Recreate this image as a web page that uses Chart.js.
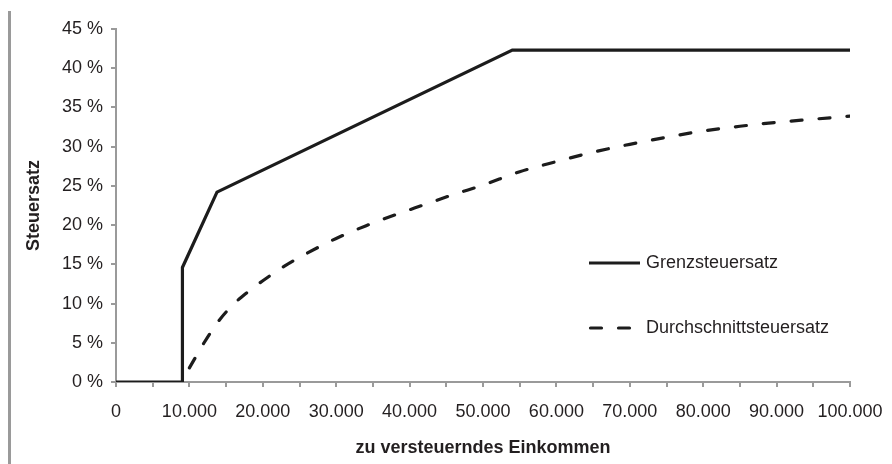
<!DOCTYPE html>
<html>
<head>
<meta charset="utf-8">
<script src="https://cdn.jsdelivr.net/npm/chart.js@4.4.1/dist/chart.umd.min.js"></script>
<style>
  html, body { margin: 0; padding: 0; background: #fff; }
  #wrap { width: 892px; height: 464px; position: relative; }
</style>
</head>
<body>
<div id="wrap"><canvas id="c" width="892" height="464"></canvas></div>
<script>
// ---- data ----
const seriesNames = ['Grenzsteuersatz', 'Durchschnittsteuersatz'];

const incomeMarginal = [0, 9000, 9000, 9100, 13760, 54000, 100000];
const rateMarginal   = [0, 0, 13.0, 14.6, 24.2, 42.3, 42.3];

const incomeAverage = [10000, 12000, 14000, 16000, 18000, 20000, 23000, 26000, 30000, 34000,
                       38000, 42000, 46000, 50000, 55000, 60000, 65000, 70000, 75000, 80000,
                       85000, 90000, 95000, 100000];
const rateAverage   = [1.8, 5.0, 7.8, 9.9, 11.5, 12.9, 14.8, 16.4, 18.3, 19.9,
                       21.3, 22.6, 23.9, 25.1, 26.8, 28.1, 29.3, 30.3, 31.2, 32.0,
                       32.6, 33.1, 33.5, 33.9];

const xAxisTitle = 'zu versteuerndes Einkommen';
const yAxisTitle = 'Steuersatz';
const xMax = 100000, xStep = 5000, xLabelStep = 10000;
const yMax = 45, yStep = 5;

// ---- helpers ----
const toPoints = (xs, ys) => xs.map((x, i) => ({ x: x, y: ys[i] }));
const fmtThousands = v => String(v).replace(/\B(?=(\d{3})+(?!\d))/g, '.');

const INK = '#1c1c1c';
const AXIS = '#9a9a9a';
const TEXT = '#231f20';
const FONT = "'Liberation Sans', Arial, Helvetica, sans-serif";

const decor = {
  id: 'decor',
  beforeDraw(chart) {
    const ctx = chart.ctx;
    ctx.save();
    ctx.fillStyle = AXIS;
    ctx.fillRect(8, 11, 3, 453);
    ctx.restore();
  },
  afterDraw(chart) {
    const ctx = chart.ctx;
    const items = chart.data.datasets;
    const x0 = 589, x1Solid = 640, x1Dash = 632, tx = 646;
    const ys = [263, 328];
    ctx.save();
    items.forEach((ds, i) => {
      const y = ys[i];
      const dashed = ds.borderDash && ds.borderDash.length;
      ctx.strokeStyle = ds.borderColor;
      ctx.lineWidth = ds.borderWidth;
      ctx.lineCap = dashed ? 'round' : 'butt';
      ctx.setLineDash(ds.borderDash || []);
      ctx.beginPath();
      if (dashed) {
        ctx.moveTo(x0 + 1.5, y);
        ctx.lineTo(x1Dash, y);
      } else {
        ctx.moveTo(x0, y);
        ctx.lineTo(x1Solid, y);
      }
      ctx.stroke();
      ctx.setLineDash([]);
      ctx.fillStyle = TEXT;
      ctx.font = '18px ' + FONT;
      ctx.textAlign = 'left';
      ctx.textBaseline = 'middle';
      ctx.fillText(ds.label, tx, y);
    });
    ctx.restore();
  }
};

new Chart(document.getElementById('c'), {
  type: 'line',
  data: {
    datasets: [
      {
        label: seriesNames[0],
        data: toPoints(incomeMarginal, rateMarginal),
        borderColor: INK,
        borderWidth: 3.2,
        pointRadius: 0,
        tension: 0,
        fill: false,
        borderJoinStyle: 'miter'
      },
      {
        label: seriesNames[1],
        data: toPoints(incomeAverage, rateAverage),
        borderColor: INK,
        borderWidth: 3.2,
        borderDash: [11, 17],
        borderCapStyle: 'round',
        pointRadius: 0,
        cubicInterpolationMode: 'monotone',
        fill: false
      }
    ]
  },
  options: {
    responsive: false,
    animation: false,
    events: [],
    layout: { padding: { left: 0, top: 29, right: 42, bottom: 0 } },
    plugins: {
      legend: { display: false },
      tooltip: { enabled: false },
      title: { display: false }
    },
    scales: {
      x: {
        type: 'linear',
        min: 0,
        max: xMax,
        afterFit(scale) {
          scale.height = 82;
          scale.paddingLeft = 0;
          scale.paddingRight = 0;
        },
        ticks: {
          stepSize: xStep,
          autoSkip: false,
          maxRotation: 0,
          padding: 14,
          color: TEXT,
          font: { family: FONT, size: 18 },
          callback: v => (v % xLabelStep === 0 ? fmtThousands(v) : '')
        },
        grid: {
          drawOnChartArea: false,
          drawTicks: true,
          tickLength: 5,
          color: AXIS,
          lineWidth: 2
        },
        border: { display: true, color: AXIS, width: 2 },
        title: {
          display: true,
          text: xAxisTitle,
          color: TEXT,
          font: { family: FONT, size: 18, weight: 'bold' },
          padding: { top: 0, bottom: 5 }
        }
      },
      y: {
        type: 'linear',
        min: 0,
        max: yMax,
        afterFit(scale) {
          scale.width = 116;
          scale.paddingTop = 0;
          scale.paddingBottom = 0;
        },
        ticks: {
          stepSize: yStep,
          padding: 8,
          color: TEXT,
          font: { family: FONT, size: 18 },
          callback: v => v + ' %'
        },
        grid: {
          drawOnChartArea: false,
          drawTicks: true,
          tickLength: 5,
          color: AXIS,
          lineWidth: 2
        },
        border: { display: true, color: AXIS, width: 2 },
        title: {
          display: true,
          text: yAxisTitle,
          color: TEXT,
          font: { family: FONT, size: 18, weight: 'bold' },
          padding: { top: 23, bottom: 0 }
        }
      }
    }
  },
  plugins: [decor]
});
</script>
</body>
</html>
